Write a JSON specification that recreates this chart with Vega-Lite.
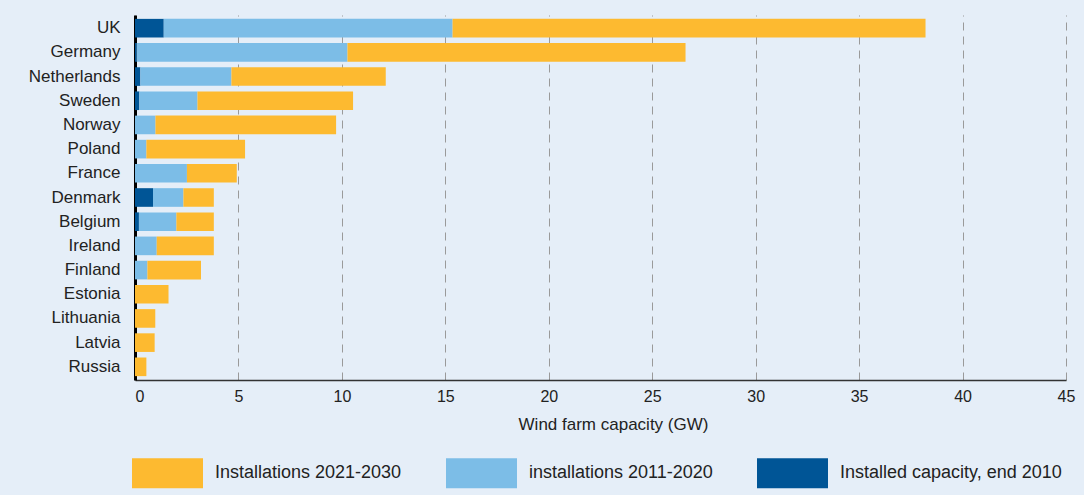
{
  "$schema": "https://vega.github.io/schema/vega-lite/v6.json",
  "width": 931,
  "height": 365,
  "autosize": {"type": "none"},
  "padding": {"left": 135, "top": 15, "right": 18, "bottom": 115},
  "background": "#e5eef8",
  "config": {"view": {"stroke": null}, "font": "Liberation Sans"},
  "data": {
    "values": [
      {"country": "UK", "series": "Installed capacity, end 2010", "phase": 1, "value": 1.39},
      {"country": "UK", "series": "installations 2011-2020", "phase": 2, "value": 13.96},
      {"country": "UK", "series": "Installations 2021-2030", "phase": 3, "value": 22.86},
      {"country": "Germany", "series": "Installed capacity, end 2010", "phase": 1, "value": 0.08},
      {"country": "Germany", "series": "installations 2011-2020", "phase": 2, "value": 10.19},
      {"country": "Germany", "series": "Installations 2021-2030", "phase": 3, "value": 16.34},
      {"country": "Netherlands", "series": "Installed capacity, end 2010", "phase": 1, "value": 0.26},
      {"country": "Netherlands", "series": "installations 2011-2020", "phase": 2, "value": 4.40},
      {"country": "Netherlands", "series": "Installations 2021-2030", "phase": 3, "value": 7.46},
      {"country": "Sweden", "series": "Installed capacity, end 2010", "phase": 1, "value": 0.21},
      {"country": "Sweden", "series": "installations 2011-2020", "phase": 2, "value": 2.81},
      {"country": "Sweden", "series": "Installations 2021-2030", "phase": 3, "value": 7.52},
      {"country": "Norway", "series": "installations 2011-2020", "phase": 2, "value": 0.99},
      {"country": "Norway", "series": "Installations 2021-2030", "phase": 3, "value": 8.73},
      {"country": "Poland", "series": "installations 2011-2020", "phase": 2, "value": 0.55},
      {"country": "Poland", "series": "Installations 2021-2030", "phase": 3, "value": 4.77},
      {"country": "France", "series": "installations 2011-2020", "phase": 2, "value": 2.51},
      {"country": "France", "series": "Installations 2021-2030", "phase": 3, "value": 2.41},
      {"country": "Denmark", "series": "Installed capacity, end 2010", "phase": 1, "value": 0.87},
      {"country": "Denmark", "series": "installations 2011-2020", "phase": 2, "value": 1.47},
      {"country": "Denmark", "series": "Installations 2021-2030", "phase": 3, "value": 1.47},
      {"country": "Belgium", "series": "Installed capacity, end 2010", "phase": 1, "value": 0.19},
      {"country": "Belgium", "series": "installations 2011-2020", "phase": 2, "value": 1.81},
      {"country": "Belgium", "series": "Installations 2021-2030", "phase": 3, "value": 1.81},
      {"country": "Ireland", "series": "installations 2011-2020", "phase": 2, "value": 1.05},
      {"country": "Ireland", "series": "Installations 2021-2030", "phase": 3, "value": 2.76},
      {"country": "Finland", "series": "installations 2011-2020", "phase": 2, "value": 0.60},
      {"country": "Finland", "series": "Installations 2021-2030", "phase": 3, "value": 2.59},
      {"country": "Estonia", "series": "Installations 2021-2030", "phase": 3, "value": 1.62},
      {"country": "Lithuania", "series": "Installations 2021-2030", "phase": 3, "value": 0.98},
      {"country": "Latvia", "series": "Installations 2021-2030", "phase": 3, "value": 0.95},
      {"country": "Russia", "series": "Installations 2021-2030", "phase": 3, "value": 0.55}
    ]
  },
  "mark": {"type": "bar"},
  "encoding": {
    "y": {
      "field": "country",
      "type": "nominal",
      "sort": ["UK", "Germany", "Netherlands", "Sweden", "Norway", "Poland", "France", "Denmark", "Belgium", "Ireland", "Finland", "Estonia", "Lithuania", "Latvia", "Russia"],
      "scale": {"paddingInner": 0.23, "paddingOuter": 0.16},
      "axis": {
        "title": null,
        "domainColor": "#000000",
        "domainWidth": 3,
        "ticks": false,
        "labelPadding": 15,
        "labelFontSize": 17,
        "labelColor": "#222222",
        "grid": false
      }
    },
    "x": {
      "field": "value",
      "type": "quantitative",
      "stack": "zero",
      "scale": {"domain": [0, 45], "nice": false},
      "axis": {
        "title": "Wind farm capacity (GW)",
        "titleFontSize": 17,
        "titleFontWeight": "normal",
        "titleColor": "#222222",
        "titlePadding": 12,
        "titleX": 478,
        "values": [0, 5, 10, 15, 20, 25, 30, 35, 40, 45],
        "domainColor": "#333333",
        "domainWidth": 1.5,
        "ticks": false,
        "labelFontSize": 16,
        "labelColor": "#222222",
        "labelPadding": 8,
        "labelFlush": false,
        "labelAlign": {"expr": "datum.value === 0 ? 'left' : 'center'"},
        "grid": true,
        "gridDash": [8, 6],
        "gridColor": "#9a9a9a",
        "gridWidth": 1
      }
    },
    "color": {
      "field": "series",
      "type": "nominal",
      "scale": {
        "domain": ["Installations 2021-2030", "installations 2011-2020", "Installed capacity, end 2010"],
        "range": ["#fdba30", "#7cbde7", "#005596"]
      },
      "legend": {
        "title": null,
        "orient": "none",
        "legendX": -3,
        "legendY": 422.5,
        "direction": "horizontal",
        "columns": 3,
        "columnPadding": 44,
        "padding": 0,
        "symbolType": "M-1,-0.423H1V0.423H-1Z",
        "symbolSize": 5041,
        "symbolStrokeWidth": 0,
        "symbolOpacity": 1,
        "labelFontSize": 18,
        "labelColor": "#222222",
        "labelOffset": 12,
        "labelLimit": 400
      }
    },
    "order": {"field": "phase", "type": "quantitative"}
  }
}
